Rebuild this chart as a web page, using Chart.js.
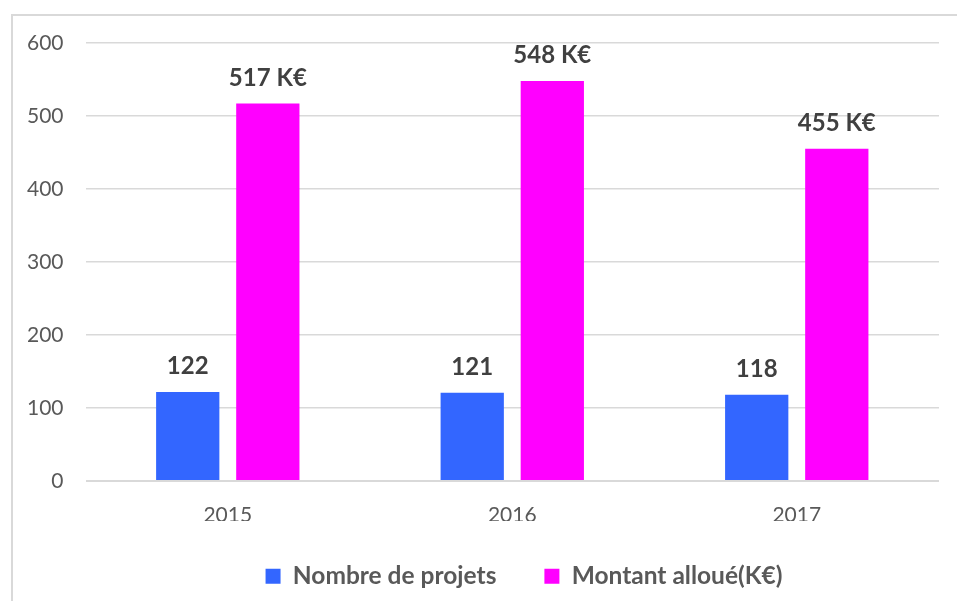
<!DOCTYPE html>
<html>
<head>
<meta charset="utf-8">
<script src="https://cdn.jsdelivr.net/npm/chart.js@4/dist/chart.umd.min.js"></script>
<style>
  html, body { margin: 0; padding: 0; background: #fff; }
  #wrap { position: relative; width: 957px; height: 601px; }
  #frame { position: absolute; left: 11px; top: 14px; right: -5px; bottom: -5px;
           border-left: 2px solid #d9d9d9; border-top: 2px solid #d9d9d9; }
</style>
</head>
<body>
<div id="wrap">
  <div id="frame"></div>
  <canvas id="barChart" width="957" height="601"></canvas>
</div>
<script>
const years = ['2015', '2016', '2017'];
const nbProjets = [122, 121, 118];
const montant = [517, 548, 455];
const seriesNames = ['Nombre de projets', 'Montant alloué(K€)'];
const labelSuffix = ['', ' K€'];

// draws the value above each bar
const valueLabels = {
  id: 'valueLabels',
  afterDatasetsDraw(chart) {
    const ctx = chart.ctx;
    ctx.save();
    ctx.font = 'bold 24px Lato';
    ctx.fillStyle = '#404040';
    ctx.textAlign = 'center';
    ctx.textBaseline = 'alphabetic';
    chart.data.datasets.forEach((ds, i) => {
      chart.getDatasetMeta(i).data.forEach((bar, j) => {
        ctx.fillText(ds.data[j] + labelSuffix[i], bar.x, bar.y - 18);
      });
    });
    ctx.restore();
  }
};

// keep the wide gap between legend items without a tall legend box,
// and nudge the legend right / up like the original
const legendLayout = {
  id: 'legendLayout',
  beforeLayout(chart) {
    const legend = chart.legend;
    if (legend && !legend._patched) {
      const fit = legend.fit;
      legend.fit = function () {
        fit.call(this);
        this.height = 72;
      };
      legend._patched = true;
    }
  },
  afterLayout(chart) {
    const legend = chart.legend;
    if (legend) {
      legend.left += 104;
      legend.top -= 5;
      legend.bottom -= 5;
    }
  }
};

const ctx = document.getElementById('barChart').getContext('2d');
const chart = new Chart(ctx, {
  type: 'bar',
  data: {
    labels: years,
    datasets: [
      { label: seriesNames[0], data: nbProjets, backgroundColor: '#3366ff' },
      { label: seriesNames[1], data: montant, backgroundColor: '#ff00ff' }
    ]
  },
  options: {
    responsive: false,
    animation: false,
    devicePixelRatio: 1,
    categoryPercentage: 0.563,
    barPercentage: 0.79,
    layout: { padding: { left: 5, right: 18, top: 43, bottom: 8 } },
    scales: {
      x: {
        grid: { display: false, drawTicks: false },
        border: { display: false },
        ticks: { color: '#595959', font: { family: 'Lato', size: 21 }, padding: 22 },
        afterFit: scale => { scale.height = 40; }
      },
      y: {
        min: 0,
        max: 600,
        ticks: { stepSize: 100, color: '#595959', font: { family: 'Lato', size: 21 }, padding: 22 },
        border: { display: false },
        grid: {
          drawTicks: false,
          color: '#d9d9d9',
          lineWidth: c => c.tick && c.tick.value === 0 ? 2 : 1.5
        }
      }
    },
    plugins: {
      tooltip: { enabled: false },
      legend: {
        position: 'bottom',
        labels: {
          boxWidth: 15,
          boxHeight: 15,
          padding: 48,
          color: '#595959',
          font: { family: 'Lato', size: 24.5, weight: 'bold' }
        }
      }
    }
  },
  plugins: [valueLabels, legendLayout]
});
</script>
</body>
</html>
